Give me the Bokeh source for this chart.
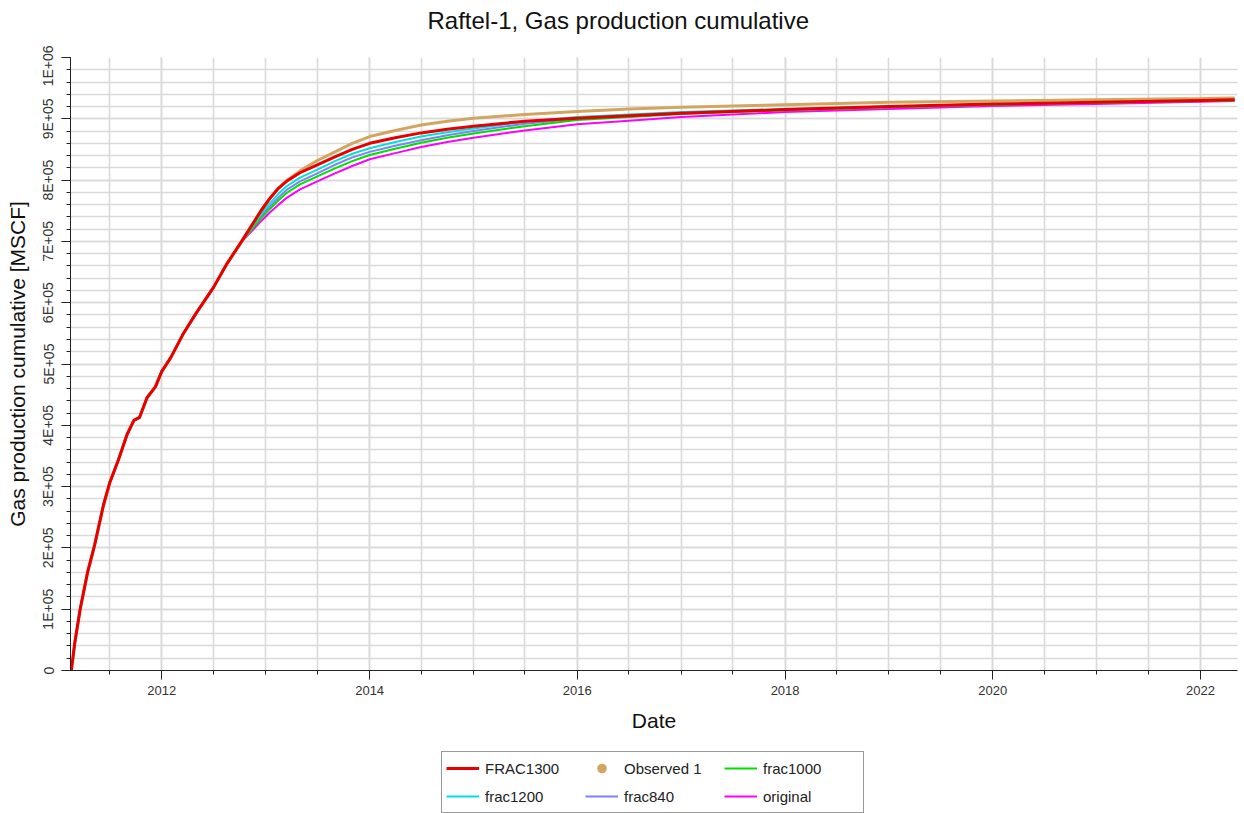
import datetime as dt
from bokeh.plotting import figure
from bokeh.layouts import column
from bokeh.models import FixedTicker, Range1d, Legend, LegendItem, DatetimeTickFormatter, Title
from bokeh.embed import file_html
from bokeh.resources import INLINE

# ---------------- data ----------------
early_dates = ["2011-02-17", "2011-03-01", "2011-03-20", "2011-04-15", "2011-05-10", "2011-06-10",
               "2011-07-01", "2011-08-01", "2011-09-01", "2011-09-25", "2011-10-15", "2011-11-10",
               "2011-12-10", "2012-01-01", "2012-02-01", "2012-03-15", "2012-05-01", "2012-07-01",
               "2012-08-15", "2012-10-05"]
late_dates = ["2012-11-15", "2012-12-15", "2013-01-15", "2013-02-15", "2013-03-15", "2013-05-01",
              "2013-07-01", "2013-09-01", "2013-11-01", "2014-01-01", "2014-04-01", "2014-07-01",
              "2014-10-01", "2015-01-01", "2015-07-01", "2016-01-01", "2016-07-01", "2017-01-01",
              "2018-01-01", "2019-01-01", "2020-01-01", "2021-01-01", "2022-01-01", "2022-05-01"]
dates = early_dates + late_dates

# shared history (x 1E+05 MSCF)
early = [0, 0.45, 1.0, 1.6, 2.05, 2.7, 3.05, 3.43, 3.85, 4.08, 4.13, 4.45, 4.63, 4.88, 5.1,
         5.48, 5.83, 6.25, 6.62, 6.98]

frac1300_late = [7.28, 7.50, 7.70, 7.87, 7.98, 8.12, 8.25, 8.38, 8.50, 8.60, 8.69, 8.77, 8.83, 8.88,
                 8.96, 9.01, 9.05, 9.09, 9.15, 9.20, 9.24, 9.27, 9.30, 9.31]
observed1_late = [7.28, 7.50, 7.70, 7.87, 7.99, 8.15, 8.32, 8.46, 8.60, 8.71, 8.81, 8.90, 8.96, 9.01,
                  9.07, 9.12, 9.16, 9.19, 9.23, 9.27, 9.29, 9.31, 9.33, 9.34]
frac1200_late = [7.25, 7.45, 7.62, 7.78, 7.90, 8.04, 8.17, 8.31, 8.43, 8.52, 8.62, 8.71, 8.78, 8.84,
                 8.95, 9.03, 9.07, 9.11, 9.16, 9.20, 9.24, 9.27, 9.30, 9.31]
frac840_late = [7.23, 7.41, 7.57, 7.72, 7.84, 7.98, 8.11, 8.25, 8.37, 8.46, 8.56, 8.65, 8.73, 8.80,
                8.92, 9.00, 9.05, 9.09, 9.15, 9.19, 9.23, 9.26, 9.29, 9.30]
frac1000_late = [7.21, 7.38, 7.53, 7.67, 7.79, 7.93, 8.06, 8.19, 8.31, 8.41, 8.51, 8.61, 8.69, 8.76,
                 8.88, 8.98, 9.03, 9.08, 9.14, 9.19, 9.23, 9.26, 9.29, 9.30]
original_late = [7.18, 7.33, 7.47, 7.60, 7.71, 7.85, 7.98, 8.11, 8.23, 8.34, 8.44, 8.54, 8.62, 8.69,
                 8.81, 8.91, 8.97, 9.03, 9.11, 9.16, 9.21, 9.24, 9.28, 9.29]

y_major = [0, 100000, 200000, 300000, 400000, 500000, 600000, 700000, 800000, 900000, 1000000]
y_labels = ["0", "1E+05", "2E+05", "3E+05", "4E+05", "5E+05", "6E+05", "7E+05", "8E+05", "9E+05", "1E+06"]
x_major_years = [2012, 2014, 2016, 2018, 2020, 2022]

series = [
    ("FRAC1300", frac1300_late, "#E80000", 3),
    ("Observed 1", observed1_late, "#D2A661", 3),
    ("frac1000", frac1000_late, "#00E000", 2),
    ("frac1200", frac1200_late, "#00E0E0", 2),
    ("frac840", frac840_late, "#8080FF", 2),
    ("original", original_late, "#FF00FF", 2),
]

# ---------------- helpers ----------------
def ms(s):
    d = dt.datetime.strptime(s, "%Y-%m-%d").replace(tzinfo=dt.timezone.utc)
    return int(d.timestamp() * 1000)

xd = [ms(s) for s in dates]
def full(late):
    return [v * 1e5 for v in early + late]

FONT = "Liberation Sans"
X0, X1 = ms("2011-02-14"), ms("2022-05-11")

# ---------------- title strip ----------------
tf = figure(width=1240, height=45, output_backend="svg", toolbar_location=None,
            x_range=Range1d(0, 1), y_range=Range1d(0, 1),
            x_axis_location=None, y_axis_location=None,
            min_border_left=0, min_border_right=0, min_border_top=0, min_border_bottom=0)
tf.outline_line_color = None
tf.xgrid.visible = False
tf.ygrid.visible = False
tf.title = Title(text="Raftel-1, Gas production cumulative", align="left",
                 vertical_align="bottom", text_font=FONT, text_font_size="24px",
                 text_font_style="normal", text_color="#111111", standoff=8, offset=357)

# ---------------- main chart ----------------
p = figure(width=1240, height=695, x_axis_type="datetime",
           output_backend="svg", toolbar_location=None,
           x_range=Range1d(X0, X1), y_range=Range1d(0, 1000000),
           min_border_left=70, min_border_right=3, min_border_top=12, min_border_bottom=70)
p.outline_line_color = None
p.background_fill_color = "white"

# x axis
x_major = [ms(f"{y}-01-01") for y in x_major_years]
x_minor = []
for y in range(2011, 2023):
    for m in (1, 7):
        v = ms(f"{y}-{m:02d}-01")
        if X0 < v < X1:
            x_minor.append(v)
p.xaxis.ticker = FixedTicker(ticks=x_major, minor_ticks=x_minor)
p.xaxis.formatter = DatetimeTickFormatter(years="%Y", months="%Y", days="%Y", hours="%Y",
                                          minutes="%Y", seconds="%Y", milliseconds="%Y",
                                          microseconds="%Y", hourmin="%Y", minsec="%Y")
p.xaxis.axis_label = "Date"
p.xaxis.axis_label_text_font = FONT
p.xaxis.axis_label_text_font_size = "21px"
p.xaxis.axis_label_text_font_style = "normal"
p.xaxis.axis_label_text_color = "#111111"
p.xaxis.axis_label_standoff = 11
p.xaxis.major_label_text_font = FONT
p.xaxis.major_label_text_font_size = "13px"
p.xaxis.major_label_text_color = "#333333"
p.xaxis.major_label_standoff = 6
p.xaxis.major_tick_out = 9
p.xaxis.major_tick_in = 0
p.xaxis.minor_tick_out = 4
p.xaxis.minor_tick_in = 0
p.xaxis.axis_line_color = "#222222"
p.xaxis.major_tick_line_color = "#222222"
p.xaxis.minor_tick_line_color = "#222222"

# y axis
y_minor = list(range(0, 1000001, 20000))
p.yaxis.ticker = FixedTicker(ticks=y_major, minor_ticks=y_minor)
p.yaxis.major_label_overrides = {k: v for k, v in zip(y_major, y_labels)}
p.yaxis.major_label_orientation = "vertical"
p.yaxis.axis_label = "Gas production cumulative [MSCF]"
p.yaxis.axis_label_text_font = FONT
p.yaxis.axis_label_text_font_size = "21px"
p.yaxis.axis_label_text_font_style = "normal"
p.yaxis.axis_label_text_color = "#111111"
p.yaxis.axis_label_standoff = 9
p.yaxis.major_label_text_font = FONT
p.yaxis.major_label_text_font_size = "14px"
p.yaxis.major_label_text_color = "#333333"
p.yaxis.major_label_standoff = 5
p.yaxis.major_tick_out = 9
p.yaxis.major_tick_in = 0
p.yaxis.minor_tick_out = 4
p.yaxis.minor_tick_in = 0
p.yaxis.axis_line_color = "#222222"
p.yaxis.major_tick_line_color = "#222222"
p.yaxis.minor_tick_line_color = "#222222"

for g in (p.xgrid, p.ygrid):
    g.grid_line_color = "#d9d9d9"
    g.grid_line_width = 1.6
    g.minor_grid_line_color = "#d9d9d9"
    g.minor_grid_line_width = 1.6

# ---------------- series (draw order: original first, FRAC1300 last) ----------------
draw_order = ["original", "frac840", "frac1000", "frac1200", "Observed 1", "FRAC1300"]
lookup = {s[0]: s for s in series}
for name in draw_order:
    _, late, color, w = lookup[name]
    p.line(xd, full(late), line_color=color, line_width=w)

# ---------------- legend (separate strip below the chart) ----------------
lf = figure(width=1240, height=73, output_backend="svg", toolbar_location=None,
            x_range=Range1d(0, 1), y_range=Range1d(-3e6, -2e6),
            x_axis_location=None, y_axis_location=None,
            min_border_left=0, min_border_right=0, min_border_top=0, min_border_bottom=0)
lf.outline_line_color = None
lf.xgrid.visible = False
lf.ygrid.visible = False

items = []
for name, late, color, w in series:
    if name == "Observed 1":
        r = lf.scatter(xd, full(late), size=0, fill_color=color, line_color=None)
    else:
        r = lf.line(xd, full(late), line_color=color, line_width=w)
    items.append(LegendItem(label=name, renderers=[r]))

legend = Legend(items=items, orientation="horizontal", ncols=3, location=(371, 0))
legend.label_text_font = FONT
legend.label_text_font_size = "15px"
legend.label_text_color = "#222222"
legend.glyph_width = 33
legend.glyph_height = 24
legend.label_height = 24
legend.label_width = 96
legend.label_standoff = 6
legend.spacing = 4
legend.padding = 4
legend.margin = 0
legend.border_line_color = "#333333"
legend.border_line_width = 1
legend.background_fill_alpha = 1
lf.add_layout(legend, "center")

open("out.html", "w").write(file_html(column(tf, p, lf), INLINE))
